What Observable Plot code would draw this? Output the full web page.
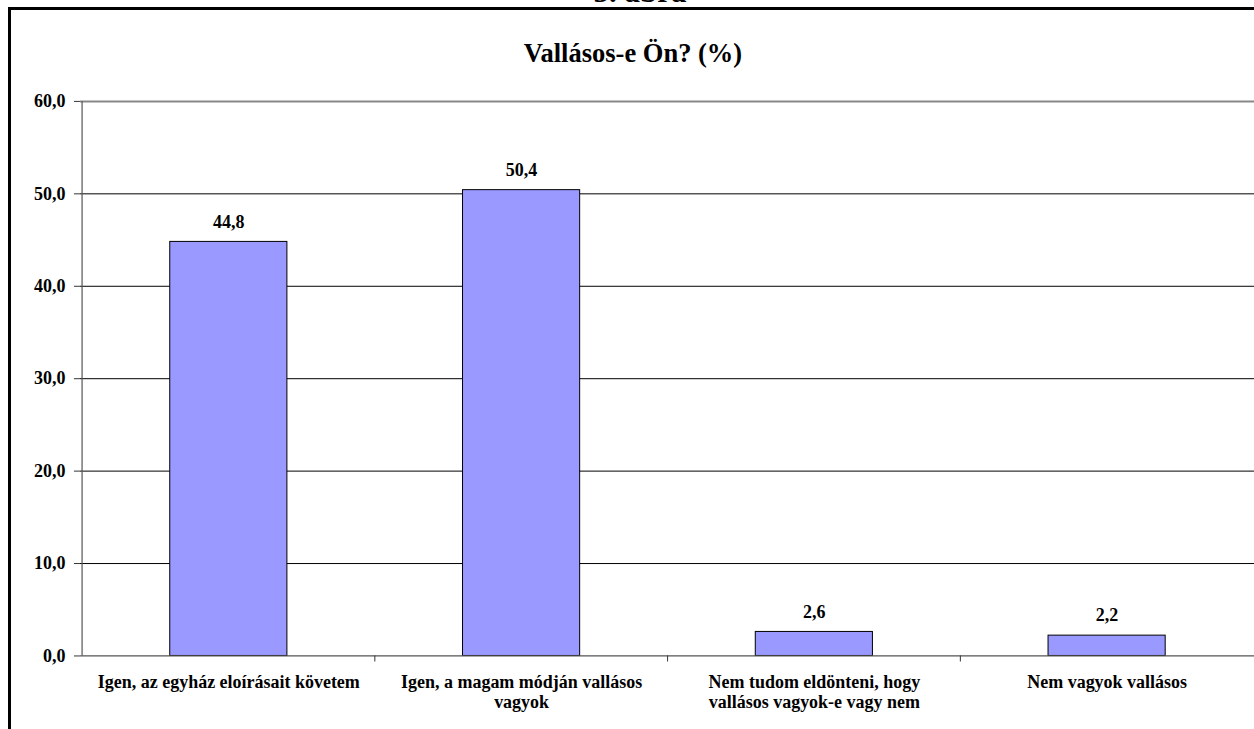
<!DOCTYPE html>
<html>
<head>
<meta charset="utf-8">
<script src="https://cdn.jsdelivr.net/npm/d3@7"></script>
<script src="https://cdn.jsdelivr.net/npm/@observablehq/plot@0.6"></script>
<style>
  html, body { margin: 0; padding: 0; background: #fff; overflow: hidden; }
  #wrap { position: relative; width: 1254px; height: 729px; overflow: hidden; font-family: "Liberation Serif", "Times New Roman", serif; }
  #fig { position: absolute; left: 0; width: 1254px; top: -24px; text-align: center; font-weight: bold; font-size: 31px; line-height: 31px; padding-left: 26px; box-sizing: border-box; }
  #topline { position: absolute; left: 8px; top: 7px; width: 1260px; height: 3px; background: #000; }
  #leftline { position: absolute; left: 8px; top: 7px; width: 3px; height: 740px; background: #000; }
  #title { position: absolute; left: 0; width: 1266px; top: 38px; text-align: center; font-weight: bold; font-size: 26.5px; line-height: 30px; }
  #chart { position: absolute; left: 0; top: 0; }
</style>
</head>
<body>
<div id="wrap">
  <div id="fig">5. ábra</div>
  <div id="topline"></div>
  <div id="leftline"></div>
  <div id="title">Vallásos-e Ön? (%)</div>
  <div id="chart"></div>
</div>
<script>
const categories = [
  "Igen, az egyház eloírásait követem",
  "Igen, a magam módján vallásos vagyok",
  "Nem tudom eldönteni, hogy vallásos vagyok-e vagy nem",
  "Nem vagyok vallásos"
];
const tickLabels = [
  "Igen, az egyház eloírásait követem",
  "Igen, a magam módján vallásos\nvagyok",
  "Nem tudom eldönteni, hogy\nvallásos vagyok-e vagy nem",
  "Nem vagyok vallásos"
];
const values = [44.8, 50.4, 2.6, 2.2];
const yTicks = [0, 10, 20, 30, 40, 50, 60];

const data = categories.map((c, i) => ({category: c, value: values[i]}));
const fmt = v => v.toFixed(1).replace(".", ",");

const width = 1255, marginLeft = 80, marginRight = 0;
const bw = (width - marginLeft - marginRight) / categories.length;
const barW = 118;
const inset = (bw - barW) / 2;
const font = "'Liberation Serif', 'Times New Roman', serif";

const chart = Plot.plot({
  width,
  height: 729,
  marginLeft,
  marginRight,
  marginTop: 101,
  marginBottom: 73,
  style: {fontFamily: font, background: "transparent", overflow: "visible"},
  x: {domain: categories, padding: 0},
  y: {domain: [0, 60]},
  marks: [
    Plot.ruleY(yTicks.filter(t => t > 0 && t < 60), {stroke: "#000", strokeWidth: 1}),
    Plot.ruleY([60], {stroke: "#888", strokeWidth: 2}),
    Plot.barY(data, {x: "category", y: "value", fill: "#9999FF", stroke: "#000", strokeWidth: 1, insetLeft: inset, insetRight: inset}),
    Plot.ruleY([0], {stroke: "#555", strokeWidth: 1.2}),
    Plot.ruleX([categories[0]], {y1: 0, y2: 60, dx: -bw / 2, stroke: "#555", strokeWidth: 1.2}),
    Plot.ruleX(categories.slice(1), {y1: 0, y2: 0, insetBottom: -6, dx: -bw / 2, stroke: "#333", strokeWidth: 1}),
    Plot.axisY({ticks: yTicks, tickFormat: fmt, tickSize: 6, tickPadding: 9, fontSize: 18, fontWeight: "bold", fill: "#000", stroke: "#333", label: null}),
    Plot.axisX({tickSize: 0, tickPadding: 18, tickFormat: d => tickLabels[categories.indexOf(d)], fontSize: 18, fontWeight: "bold", fill: "#000", lineHeight: 1.12, label: null, textAnchor: "middle", lineAnchor: "top"}),
    Plot.text(data, {x: "category", y: "value", text: d => fmt(d.value), dy: -20, fontSize: 18, fontWeight: "bold", fill: "#000"})
  ]
});
document.getElementById("chart").appendChild(chart);
</script>
</body>
</html>
